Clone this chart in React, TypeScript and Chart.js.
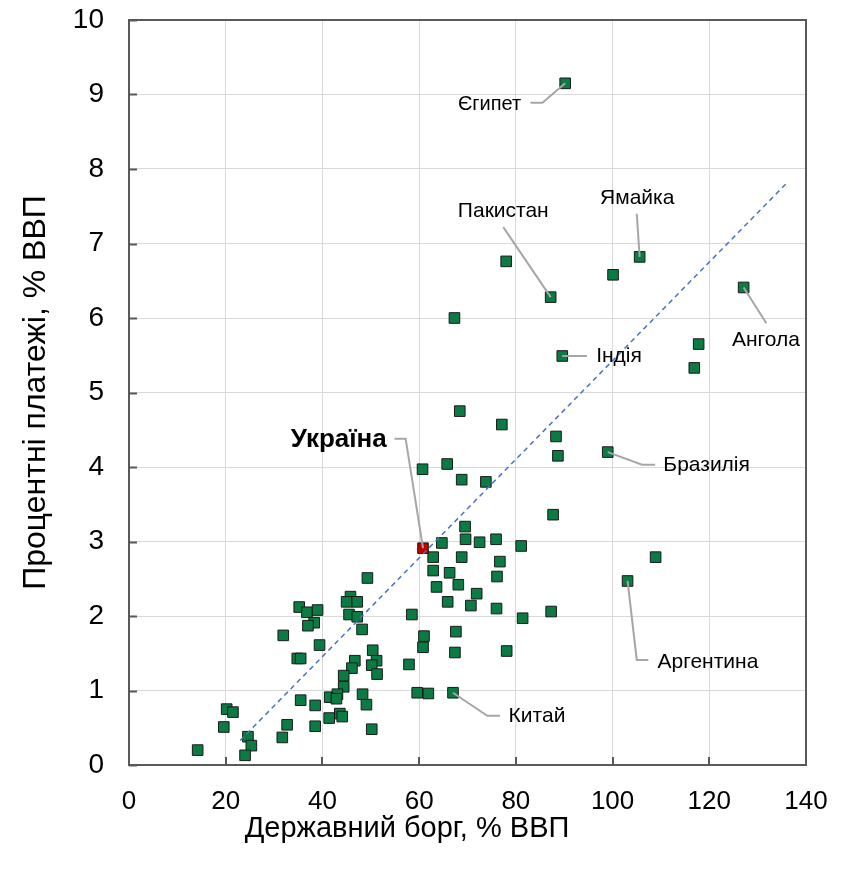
import React, { useEffect, useRef } from 'react';
import { Chart, registerables } from 'chart.js';

Chart.register(...registerables);

// Public debt, % of GDP (x) and interest payments, % of GDP (y)
// First eight entries are the labelled countries.
const debtX = [
  90.2, 87.2, 105.6, 127.1, 89.6, 99.0, 103.1, 67.0,
  35.2, 36.8, 39.0, 38.3, 37.0, 31.9, 39.4, 34.8, 35.5, 35.5, 38.5, 32.7, 38.5, 31.7,
  20.2, 21.5, 19.6, 24.6, 25.3, 24.0, 14.2,
  49.3, 45.8, 45.0, 47.2, 45.5, 47.2, 48.2, 58.5, 61.0, 60.8, 67.6, 67.4,
  50.4, 51.2, 50.2, 51.3, 46.7, 46.1, 44.4, 44.4, 57.9,
  41.5, 43.1, 42.9, 48.3, 49.1, 41.4, 43.6, 44.1, 50.2, 59.6, 61.9,
  68.4, 77.1, 88.3, 88.7, 60.7, 65.8, 68.8, 73.8, 87.7,
  69.5, 69.6, 72.5, 75.9, 81.1, 64.7, 62.9, 68.8, 76.7, 62.9, 66.3, 76.1,
  63.6, 68.1, 71.9, 65.9, 70.7, 76.0, 81.4, 87.3, 78.1,
  100.1, 117.8, 116.9, 108.9, 78.0, 67.3,
];
const interestY = [
  9.15, 6.28, 6.82, 6.41, 5.49, 4.20, 2.47, 0.97,
  2.12, 2.05, 2.08, 1.91, 1.87, 1.74, 1.61, 1.43, 1.43, 0.87, 0.80, 0.54, 0.52, 0.37,
  0.75, 0.71, 0.51, 0.38, 0.26, 0.13, 0.20,
  2.51, 2.26, 2.19, 2.19, 2.02, 1.99, 1.82, 2.02, 1.73, 1.58, 1.79, 1.51,
  1.54, 1.40, 1.34, 1.22, 1.40, 1.30, 1.20, 1.05, 1.35,
  0.91, 0.95, 0.89, 0.95, 0.81, 0.63, 0.69, 0.65, 0.48, 0.97, 0.96,
  4.75, 4.57, 4.41, 4.15, 3.97, 4.04, 3.83, 3.80, 3.36,
  3.20, 3.03, 2.99, 3.03, 2.94, 2.98, 2.79, 2.79, 2.73, 2.61, 2.58, 2.53,
  2.39, 2.42, 2.30, 2.19, 2.14, 2.10, 1.97, 2.06, 1.53,
  6.58, 5.65, 5.33, 2.79, 6.76, 6.00,
];

const ukraineX = [60.8];
const ukraineY = [2.91];

// Trend line endpoints
const trendX = [23.0, 136.0];
const trendY = [0.33, 7.81];

const xTickValues = [0, 20, 40, 60, 80, 100, 120, 140];
const yTickValues = [0, 1, 2, 3, 4, 5, 6, 7, 8, 9, 10];

const xTitle = 'Державний борг, % ВВП';
const yTitle = 'Процентні платежі, % ВВП';

// Annotations (index into data arrays, text anchor and leader-line elbows in data units)
const annNames = ['Єгипет', 'Пакистан', 'Ямайка', 'Ангола', 'Індія', 'Бразилія', 'Аргентина', 'Китай'];
const annIndex = [0, 1, 2, 3, 4, 5, 6, 7];
const annSize = [20, 21, 21, 21, 21, 21, 21, 21];
const annTextX = [81.1, 77.4, 105.1, 131.7, 96.6, 110.5, 109.3, 78.5];
const annTextY = [8.86, 7.43, 7.61, 5.70, 5.49, 4.02, 1.385, 0.66];
const annAlign: CanvasTextAlign[] = ['right', 'center', 'center', 'center', 'left', 'left', 'left', 'left'];
const annElbowX = [[85.5, 83.0], [77.4], [105.0], [131.8], [94.7], [106.1, 108.8], [105.0, 107.4], [74.1, 76.7]];
const annElbowY = [[8.89, 8.89], [7.22], [7.40], [5.93], [5.49], [4.03, 4.03], [1.41, 1.41], [0.66, 0.66]];

const ukraineName = 'Україна';
const ukraineTextX = 53.3;
const ukraineTextY = 4.37;
const ukraineElbowX = [57.2, 54.9];
const ukraineElbowY = [4.38, 4.38];

const FONT = '"Liberation Sans", Arial, sans-serif';

const decorPlugin = {
  id: 'decor',
  beforeDatasetsDraw(chart: any) {
    const { ctx, chartArea: a, scales } = chart;
    const xs = scales.x;
    const ys = scales.y;
    ctx.save();
    ctx.strokeStyle = '#595959';
    ctx.lineWidth = 2;
    // inner tick marks
    ctx.beginPath();
    yTickValues.forEach((v) => {
      const py = Math.round(ys.getPixelForValue(v)) + 0.5;
      ctx.moveTo(a.left, py);
      ctx.lineTo(a.left + 8, py);
    });
    xTickValues.forEach((v) => {
      const px = Math.round(xs.getPixelForValue(v));
      ctx.moveTo(px, a.bottom);
      ctx.lineTo(px, a.bottom - 8);
    });
    ctx.stroke();
    // frame
    ctx.strokeRect(a.left, a.top, a.right - a.left, a.bottom - a.top);
    ctx.restore();
  },
  afterDatasetsDraw(chart: any) {
    const { ctx, scales, chartArea: a } = chart;
    const xs = scales.x;
    const ys = scales.y;
    ctx.save();
    ctx.lineWidth = 2;
    ctx.strokeStyle = '#a6a6a6';
    ctx.fillStyle = '#000';
    ctx.textBaseline = 'middle';
    annNames.forEach((name, i) => {
      const idx = annIndex[i];
      ctx.beginPath();
      ctx.moveTo(xs.getPixelForValue(debtX[idx]), ys.getPixelForValue(interestY[idx]));
      annElbowX[i].forEach((ex, j) => {
        ctx.lineTo(xs.getPixelForValue(ex), ys.getPixelForValue(annElbowY[i][j]));
      });
      ctx.stroke();
      ctx.font = `${annSize[i]}px ${FONT}`;
      ctx.textAlign = annAlign[i];
      ctx.fillText(name, xs.getPixelForValue(annTextX[i]), ys.getPixelForValue(annTextY[i]));
    });
    // Ukraine
    ctx.beginPath();
    ctx.moveTo(xs.getPixelForValue(ukraineX[0]), ys.getPixelForValue(ukraineY[0]));
    ukraineElbowX.forEach((ex, j) => {
      ctx.lineTo(xs.getPixelForValue(ex), ys.getPixelForValue(ukraineElbowY[j]));
    });
    ctx.stroke();
    ctx.font = `bold 26px ${FONT}`;
    ctx.textAlign = 'right';
    ctx.fillText(ukraineName, xs.getPixelForValue(ukraineTextX), ys.getPixelForValue(ukraineTextY));

    // x-axis title (placed left of centre as in the source)
    ctx.font = `29px ${FONT}`;
    ctx.textAlign = 'center';
    ctx.fillText(xTitle, a.left + 278, a.bottom + 64);
    ctx.restore();
  },
};

export default function App() {
  const ref = useRef<HTMLCanvasElement>(null);

  useEffect(() => {
    if (!ref.current) return;
    const chart = new Chart(ref.current, {
      type: 'scatter',
      data: {
        datasets: [
          {
            label: 'trend',
            data: trendX.map((x, i) => ({ x, y: trendY[i] })),
            showLine: true,
            borderColor: '#4472c4',
            borderWidth: 1.5,
            borderDash: [5, 4],
            pointRadius: 0,
            fill: false,
          },
          {
            label: 'Україна',
            data: ukraineX.map((x, i) => ({ x, y: ukraineY[i] })),
            pointStyle: 'rect',
            pointRadius: 7.5,
            backgroundColor: '#c00000',
            borderColor: '#1a1a1a',
            borderWidth: 1,
          },
          {
            label: 'countries',
            data: debtX.map((x, i) => ({ x, y: interestY[i] })),
            pointStyle: 'rect',
            pointRadius: 7.5,
            backgroundColor: '#0a7b43',
            borderColor: '#1a1a1a',
            borderWidth: 1,
          },
        ],
      },
      options: {
        animation: false,
        responsive: true,
        maintainAspectRatio: false,
        layout: { padding: { top: 12, right: 32, left: 0, bottom: 0 } },
        plugins: {
          legend: { display: false },
          tooltip: { enabled: false },
        },
        scales: {
          x: {
            type: 'linear',
            min: 0,
            max: 140,
            afterBuildTicks: (scale: any) => {
              scale.ticks = xTickValues.map((v) => ({ value: v }));
            },
            afterFit: (scale: any) => {
              scale.height = 97;
              scale.paddingLeft = 0;
              scale.paddingRight = 0;
            },
            grid: { color: '#d9d9d9', lineWidth: 1, drawTicks: false },
            border: { display: true, color: '#595959', width: 2 },
            ticks: {
              padding: 21,
              color: '#000',
              font: { family: FONT, size: 26 },
              maxRotation: 0,
            },
            title: { display: false, text: xTitle },
          },
          y: {
            type: 'linear',
            min: 0,
            max: 10,
            afterBuildTicks: (scale: any) => {
              scale.ticks = yTickValues.map((v) => ({ value: v }));
            },
            afterFit: (scale: any) => {
              scale.width = 121;
              scale.paddingTop = 0;
              scale.paddingBottom = 0;
            },
            grid: { color: '#d9d9d9', lineWidth: 1, drawTicks: false },
            border: { display: true, color: '#595959', width: 2 },
            ticks: {
              padding: 25,
              color: '#000',
              font: { family: FONT, size: 28 },
            },
            title: {
              display: true,
              text: yTitle,
              color: '#000',
              font: { family: FONT, size: 32 },
              padding: { top: 9, bottom: 0 },
            },
          },
        },
      },
      plugins: [decorPlugin],
    });
    return () => chart.destroy();
  }, []);

  return (
    <div style={{ position: 'relative', width: 830, height: 854 }}>
      <canvas ref={ref} />
    </div>
  );
}
